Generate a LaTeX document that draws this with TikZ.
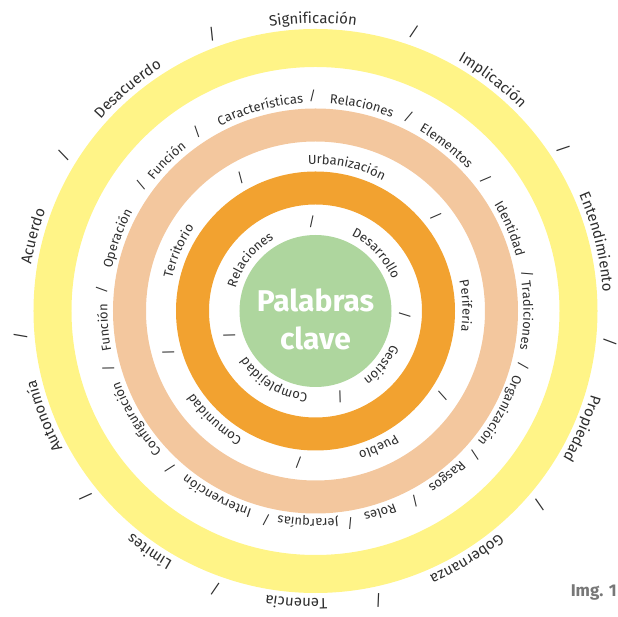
\documentclass[tikz,border=0pt]{standalone}
\usepackage{fontspec}
\setmainfont{Fira Sans}
\usetikzlibrary{decorations.text}
\definecolor{yellowring}{HTML}{FFF487}
\definecolor{peachring}{HTML}{F3C79E}
\definecolor{orangering}{HTML}{F2A230}
\definecolor{coregreen}{HTML}{AED69E}
\definecolor{labelgray}{HTML}{2E2E2E}
\definecolor{imggray}{HTML}{777777}
\begin{document}
\begin{tikzpicture}[x=1pt,y=1pt,
  core/.style={circle,fill=coregreen,minimum size=152,inner sep=0},
  keyword/.style={anchor=base,inner sep=0,text=white,font=\fontsize{30}{38}\selectfont\bfseries},
  slash/.style={inner sep=0,text=labelgray},
  arclabel/.style={decorate,decoration={text along path,text align=center,text color=labelgray,text/.expanded=#1}}]
\useasboundingbox (-315.5,-306) rectangle (302.5,311);
\draw[yellowring,line width=38] (0,0) circle[radius=263];
\draw[peachring,line width=33] (0,0) circle[radius=186];
\draw[orangering,line width=33] (0,0) circle[radius=123];
\node[core] (kw) at (0,0) {};
\node[keyword] (kw1) at (0,-1) {Palabras};
\node[keyword] (kw2) at (0,-39) {clave};
% outer words
\begin{scope}
\fontsize{15}{18}\selectfont
\foreach \a/\t in {90.5/Significación,52.5/Implicación,13.8/Entendimiento,-23.8/Propiedad,-58.6/Gobernanza,-93.8/Tenencia,-124.6/Límites,-158.8/Autonomía,165.2/Acuerdo,130.2/Desacuerdo}
  \path[arclabel=\t] ({\a+40}:288) arc[start angle=\a+40,end angle=\a-40,radius=288];
\foreach \a [count=\i] in {110.5,70.6,33.2,-6,-40.8,-77.7,-109.8,-141,-175.2,148.4}
  \node[slash,rotate=\a-90] (o\i) at (\a:296) {/};
\end{scope}
\begin{scope}
\fontsize{13}{16}\selectfont
\foreach \a/\t in {105.3/Características,77.3/Relaciones,51.6/Elementos,23/Identidad,-1.2/Tradiciones,-28.3/Organización,-51.5/Rasgos,-72.2/Roles,-92/Jerarquías,-118/Intervención,-148.9/Configuración,-175.5/Función,159.9/Operación,134.7/Función}
  \path[arclabel=\t] ({\a+35}:208) arc[start angle=\a+35,end angle=\a-35,radius=208];
\foreach \a [count=\i] in {123.5,90.8,64.3,37.7,10,-14.9,-42.1,-62.4,-80.7,-103.3,-132.7,-164.5,174.4,144.3}
  \node[slash,rotate=\a-90] (p\i) at (\a:215) {/};
\foreach \a/\t in {77.8/Urbanización,2/Periferia,-65.1/Pueblo,-133/Comunidad,156.4/Territorio}
  \path[arclabel=\t] ({\a+40}:147) arc[start angle=\a+40,end angle=\a-40,radius=147];
\foreach \a [count=\i] in {119.3,38.1,-33.9,-96.4,-164.3}
  \node[slash,rotate=\a-90] (r\i) at (\a:153) {/};
\foreach \a/\t in {142/Relaciones,43.3/Desarrollo,-39.4/Gestión,-121/Complejidad}
  \path[arclabel=\t] ({\a+50}:83) arc[start angle=\a+50,end angle=\a-50,radius=83];
\foreach \a [count=\i] in {92.4,-2.6,-74,-164.2}
  \node[slash,rotate=\a-90] (c\i) at (\a:89.5) {/};
\end{scope}
\node[font=\fontsize{17}{20}\selectfont\bfseries,text=imggray,anchor=base east,inner sep=0] (img) at (301.5,-286) {Img. 1};
\end{tikzpicture}
\end{document}
